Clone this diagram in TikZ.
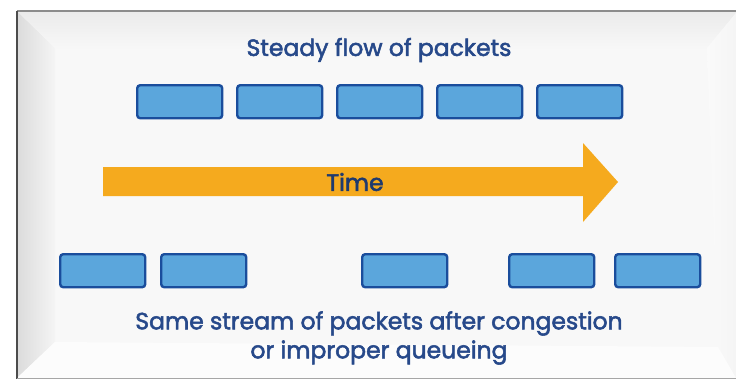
\documentclass[tikz,border=0pt]{standalone}
\usepackage{fontspec}
\setmainfont{Poppins}[FakeBold=2.2]
\begin{document}
\begin{tikzpicture}[x=1pt,y=-1pt]
\definecolor{ink}{HTML}{27498A}
\definecolor{pkfill}{HTML}{5BA6DC}
\definecolor{pkedge}{HTML}{1A4D9C}
\definecolor{timeor}{HTML}{F5AA1E}
\definecolor{panel}{HTML}{F8F8F8}
\tikzset{
  packet/.style={draw=pkedge, fill=pkfill, line width=2.4pt, rounded corners=3pt,
    minimum width=85pt, minimum height=33pt, inner sep=0pt, anchor=north west},
  caption/.style={text=ink, font=\fontsize{23.5}{29}\selectfont, align=center, inner sep=0pt},
}
\useasboundingbox (0,0) rectangle (736,381);
\fill[white] (0,0) rectangle (736,381);
% framed panel with bevelled edges
\fill[panel] (17,11) rectangle (736,378);
\shade[left color=black!14, right color=black!4] (17,11) -- (55,48) -- (55,342) -- (17,378) -- cycle;
\shade[top color=black!8, bottom color=black!3] (17,11) -- (736,11) -- (736,13) -- (707,48) -- (55,48) -- cycle;
\shade[left color=black!2, right color=black!4] (707,48) -- (736,13) -- (736,378) -- (718,347) -- cycle;
\fill[black!1] (55,342) -- (718,347) -- (736,378) -- (17,378) -- cycle;
\draw[black!45, line width=1.2pt] (17,11) -- (736,11);
\draw[black!70, line width=2pt] (17,11) -- (17,379);
\draw[black!35, line width=1.4pt] (17,378.5) -- (736,378.5);
% titles
\node[caption] (top) at (379,50) {Steady flow of packets};
\node[caption] (bottom) at (379,338) {Same stream of packets after congestion\\or improper queueing};
% steady packets
\foreach \i/\x in {1/136,2/236,3/336,4/436,5/536}
  \node[packet] (t\i) at (\x,84) {};
% arrow of time
\fill[timeor] (103,167) -- (583,167) -- (583,143) -- (618,182) -- (583,222) -- (583,196) -- (103,196) -- cycle;
\node[caption, text=ink!80!black] (time) at (355,182) {Time};
% disturbed packets
\foreach \i/\x in {1/59,2/160,3/361,4/508,5/614}
  \node[packet] (b\i) at (\x,253) {};
\end{tikzpicture}
\end{document}
